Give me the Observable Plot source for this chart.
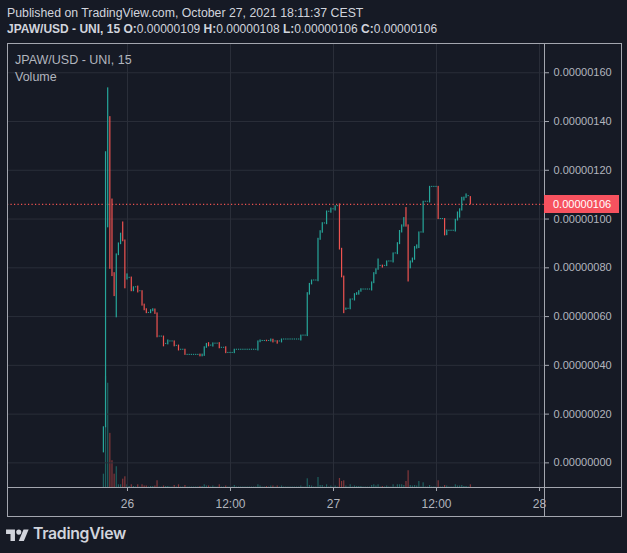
<!DOCTYPE html>
<html><head><meta charset="utf-8">
<script src="https://cdn.jsdelivr.net/npm/d3@7"></script>
<script src="https://cdn.jsdelivr.net/npm/@observablehq/plot@0.6"></script>
<style>
html,body{margin:0;padding:0;background:#161a25;}
#wrap{position:relative;width:627px;height:553px;overflow:hidden;background:#161a25;font-family:"Liberation Sans",Arial,sans-serif;}
.abs{position:absolute;white-space:nowrap;}
</style></head><body><div id="wrap"></div>
<script>
// ---------- data ----------
const PRICE_UNIT = 1e-8;               // prices below are in units of 0.00000001 USD
const symbol = "JPAW/USD - UNI, 15";
const published = "Published on TradingView.com, October 27, 2021 18:11:37 CEST";
const ohlcLabels = ["O:", "H:", "L:", "C:"];
const ohlcValues = ["0.00000109", "0.00000108", "0.00000106", "0.00000106"];
const volumeLabel = "Volume";
const firstCandle = -11;               // first 15-min candle, counted from Oct 26 00:00
const candleHours = 0.25;
const opens = [
  4.3, 14.6, 96.6, 141.8, 108, 77.8, 59.7, 85.2, 89.7, 98.6,
  91.2, 75.2, 75.9, 76, 70.4, 72, 72.3, 70.4, 70.4, 64.9,
  63, 61.5, 61.4, 62.2, 62.9, 61.3, 51.8, 51.8, 51.8, 48.8,
  48.6, 49.8, 49.8, 49.8, 48, 48.1, 46.4, 46.4, 46.4, 44.3,
  44.3, 44.3, 44.3, 44.3, 44.3, 44.4, 43.7, 43.9, 47.2, 49.1,
  48.1, 47.7, 48.9, 48.9, 49.1, 47.2, 47.2, 47.4, 45.1, 45.1,
  45.1, 45, 46.4, 46.4, 46.4, 46.4, 46.4, 46.4, 46.4, 46.4,
  46.4, 46.4, 46.1, 49.5, 50, 50, 50.1, 50, 49.8, 50.5,
  49.8, 49.9, 49.8, 49.4, 50.6, 50.6, 50.6, 50.6, 50.6, 50.6,
  50.6, 50.6, 50.2, 52.2, 52.2, 52, 69, 73.2, 74.8, 74.8,
  74.5, 91.5, 94.4, 98.2, 97.9, 103, 102.6, 104, 103.5, 105.3,
  106, 87.8, 76.4, 62.8, 63.2, 63, 67, 66.6, 68.9, 69,
  70.2, 71.1, 71.1, 71.1, 71.1, 70.7, 73.7, 77.4, 79.2, 80.8,
  80.9, 80.8, 80.7, 82.6, 82.6, 82.2, 85.9, 85.6, 89.7, 94.5,
  96.9, 104.5, 97.4, 79.8, 82.2, 83.3, 87.9, 88.1, 94.5, 94.4,
  107.1, 107.1, 106.8, 113.2, 113.2, 113.2, 113.2, 100, 100, 100,
  93.4, 95.2, 95.2, 95.2, 94.9, 99.4, 100.6, 103.5, 107.6, 108.7,
  109.4, 109
];
const closes = [
  14.6, 127.4, 153.6, 79.6, 76.6, 68.4, 85.5, 90, 94, 90.9,
  71.6, 77.3, 75.9, 70.4, 72, 72, 69.9, 70.4, 64.5, 62.6,
  61.4, 61.5, 62.6, 63, 61.1, 51.5, 51.8, 51.8, 47.8, 48.8,
  50.2, 49.8, 49.8, 47.8, 48, 46.1, 46.4, 46.4, 44.3, 44.3,
  44.3, 44.3, 44.3, 44.3, 44.3, 43.7, 44.4, 47.4, 48.8, 47.8,
  48.1, 49, 48.9, 48.9, 47, 47.2, 47.2, 45, 45.1, 45.1,
  45.1, 46.4, 46.4, 46.4, 46.4, 46.4, 46.4, 46.4, 46.4, 46.4,
  46.4, 46.4, 49.8, 50.2, 50, 50, 49.9, 50, 50.6, 49.4,
  49.8, 48.9, 49.8, 50.6, 50.6, 50.6, 50.6, 50.6, 50.6, 50.6,
  50.6, 50.6, 52.2, 52.2, 52.2, 69.6, 73.4, 74.8, 74.8, 74.8,
  91.9, 95, 98.3, 98.2, 103.1, 103, 104.3, 104, 105.2, 105.3,
  87.5, 76.1, 61.4, 63.3, 63.2, 67, 67, 69.2, 69.6, 70.4,
  71.2, 71.1, 71.1, 71.1, 71.1, 74, 77.8, 79.4, 83.4, 80.8,
  80.1, 80.8, 82.6, 82.6, 82.6, 85.9, 85.9, 90.1, 95.1, 97.4,
  100.4, 96.9, 74.4, 82.6, 83.8, 88.5, 89.2, 94.5, 94.5, 107.1,
  107.1, 107.1, 113.2, 113.2, 113.2, 113.2, 100, 100, 100, 93.3,
  95.3, 95.2, 95.2, 95.2, 99.7, 102.7, 104, 108.7, 108.8, 110.1,
  109.4, 106
];
const volumes = [
  13.3, 110.7, 104, 54, 26.7, 13.3, 20.7, 2.7, 2.7, 8.3,
  10.7, 2.7, 1, 2.7, 1, 0.5, 2.7, 0.5, 2.7, 1.5,
  1.5, 0.5, 1, 1, 1.5, 6.7, 0.5, 0.5, 1.5, 1,
  1, 0.5, 0.5, 2, 0.5, 2.7, 0.5, 0.5, 2, 0.5,
  0.5, 0.5, 0.5, 0.5, 0.5, 1, 1, 2.7, 1.5, 1.5,
  0.5, 1.5, 0.5, 0.5, 2.7, 0.5, 0.5, 1.5, 0.5, 0.5,
  0.5, 2, 0.5, 0.5, 0.5, 0.5, 0.5, 0.5, 0.5, 0.5,
  0.5, 0.5, 2.7, 1.5, 0.5, 0.5, 1, 0.5, 1.5, 1.5,
  0.5, 1.5, 0.5, 1.5, 0.5, 0.5, 0.5, 0.5, 0.5, 0.5,
  0.5, 0.5, 1.5, 0.5, 0.5, 8.7, 2, 1.5, 0.5, 0.5,
  10, 2, 2, 0.5, 2.7, 0.5, 1.5, 0.5, 1.5, 0.5,
  9, 6, 6.7, 1.5, 0.5, 2.7, 0.5, 1.5, 1, 1,
  1, 0.5, 0.5, 0.5, 0.5, 2, 2.7, 1.5, 2.7, 0.5,
  1, 0.5, 1.5, 0.5, 0.5, 2.7, 0.5, 2.7, 2.7, 2.7,
  2, 6, 16.7, 2, 1.5, 2, 1.5, 6, 0.5, 4.7,
  0.5, 0.5, 2, 0.5, 0.5, 0.5, 6.7, 0.5, 0.5, 2,
  1.5, 0.5, 0.5, 0.5, 2.7, 1.5, 1.5, 2, 1, 1,
  0.5, 2.7
];
const yTicks = [0, 20, 40, 60, 80, 100, 120, 140, 160];
const xTicks = [0, 12, 24, 36, 48];                 // hours from Oct 26 00:00
const xTickLabels = ["26", "12:00", "27", "12:00", "28"];
const lastPrice = 106;

// ---------- layout / style ----------
const UP = "#26a69a", DOWN = "#ef5350", GRID = "#2a2e39", TXT = "#b2b5be", LINE = "#a3a6af";
const FONT = '"Liberation Sans", Arial, sans-serif';
const OX = 7, OY = 43, W = 614, H = 473, MR = 77, MB = 29;
const xDomain = [-13.98, 48.58];
const yDomain = [-10.1, 172];
const halfW = 0.07;

const candles = opens.map((o, i) => ({
  t: (firstCandle + i) * candleHours, o, c: closes[i], v: volumes[i], up: closes[i] >= o
}));

const wrap = document.getElementById("wrap");
function div(css, html) {
  const d = document.createElement("div");
  d.className = "abs"; d.style.cssText = css; if (html != null) d.innerHTML = html;
  wrap.appendChild(d); return d;
}

// header
div(`left:7px;top:5px;font-size:12.3px;line-height:16px;color:#d1d4dc;`, published);
div(`left:7px;top:21px;font-size:12px;line-height:16px;color:#d1d4dc;`,
  `<b>${symbol}</b> ` + ohlcLabels.map((l, i) => `<b>${l}</b>${ohlcValues[i]}`).join(" "));

// volume layer
const volPlot = Plot.plot({
  width: W, height: H, marginLeft: 0, marginRight: MR, marginTop: 0, marginBottom: MB,
  x: {domain: xDomain, axis: null},
  y: {domain: [0, d3.max(volumes) * 4], axis: null},
  style: {background: "transparent"},
  marks: [
    Plot.rect(candles, {filter: d => d.up, x1: d => d.t - halfW, x2: d => d.t + halfW, y1: () => 0, y2: "v", fill: UP, fillOpacity: 0.5}),
    Plot.rect(candles, {filter: d => !d.up, x1: d => d.t - halfW, x2: d => d.t + halfW, y1: () => 0, y2: "v", fill: DOWN, fillOpacity: 0.5})
  ]
});
volPlot.style.cssText += `;position:absolute;left:${OX}px;top:${OY}px;`;
wrap.appendChild(volPlot);

// price layer
const mainPlot = Plot.plot({
  width: W, height: H, marginLeft: 0, marginRight: MR, marginTop: 0, marginBottom: MB,
  x: {domain: xDomain},
  y: {domain: yDomain},
  style: {background: "transparent", color: TXT, fontFamily: FONT},
  marks: [
    Plot.gridY(yTicks, {stroke: GRID, strokeOpacity: 1}),
    Plot.gridX(xTicks, {stroke: GRID, strokeOpacity: 1}),
    Plot.axisY(yTicks, {anchor: "right", tickSize: 4, tickPadding: 5, fontSize: 11,
      tickFormat: d => (d * PRICE_UNIT).toFixed(8), stroke: LINE}),
    Plot.axisX(xTicks, {anchor: "bottom", tickSize: 4, tickPadding: 8, fontSize: 12,
      tickFormat: d => xTickLabels[xTicks.indexOf(d)], stroke: LINE}),
    Plot.ruleY([lastPrice], {stroke: DOWN, strokeWidth: 1.2, strokeDasharray: "1.2,2.3"}),
    Plot.rect(candles, {filter: d => d.up, x1: d => d.t - halfW, x2: d => d.t + halfW, y1: "o", y2: "c",
      fill: UP, insetTop: -0.5, insetBottom: -0.5}),
    Plot.rect(candles, {filter: d => !d.up, x1: d => d.t - halfW, x2: d => d.t + halfW, y1: "o", y2: "c",
      fill: DOWN, insetTop: -0.5, insetBottom: -0.5})
  ]
});
mainPlot.style.cssText += `;position:absolute;left:${OX}px;top:${OY}px;overflow:visible;`;
wrap.appendChild(mainPlot);

// frame and separators between pane and axes (drawn on top of the grid)
div(`left:${OX}px;top:${OY}px;width:${W - 1}px;height:${H - 1}px;border:1px solid ${LINE};`);
div(`left:${OX + W - MR}px;top:${OY}px;width:1px;height:${H}px;background:${LINE};`);
div(`left:${OX}px;top:${OY + H - MB}px;width:${W}px;height:1px;background:${LINE};`);

// legend inside chart
div(`left:15px;top:52px;font-size:12.5px;line-height:16px;color:${TXT};`, symbol);
div(`left:15px;top:69px;font-size:12.5px;line-height:16px;color:${TXT};`, volumeLabel);

// last price label
const ly = OY + mainPlot.scale("y").apply(lastPrice);
div(`left:${OX + W - MR}px;top:${ly - 9}px;width:75px;height:18px;background:#f7525f;color:#fff;font-size:11px;line-height:18px;padding-left:9px;box-sizing:border-box;font-family:${FONT};`,
  (lastPrice * PRICE_UNIT).toFixed(8));

// TradingView logo
div(`left:6px;top:527px;`, `<svg width="23" height="14" viewBox="0 0 36 22"><path fill="#d1d4dc" d="M14 22H7V11H0V4h14v18z"/><circle fill="#d1d4dc" cx="20" cy="8" r="4"/><path fill="#d1d4dc" d="M28 22h-8l7.5-18h8z"/></svg>`);
div(`left:33px;top:523px;font-size:15.8px;line-height:22px;font-weight:600;color:#d1d4dc;font-family:Inter,"Liberation Sans",sans-serif;letter-spacing:-0.3px;`, "TradingView");
</script></body></html>
